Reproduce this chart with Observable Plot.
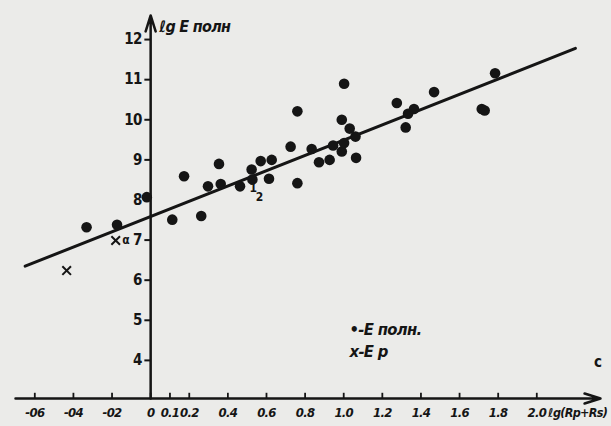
<!DOCTYPE html>
<html>
<head>
<meta charset="utf-8">
<script src="https://cdn.jsdelivr.net/npm/d3@7"></script>
<script src="https://cdn.jsdelivr.net/npm/@observablehq/plot@0.6"></script>
<style>
  html, body { margin: 0; padding: 0; background: #ebebe9; }
  #chart { width: 611px; height: 426px; overflow: hidden; }
  #chart svg text { letter-spacing: -0.7px; }
</style>
</head>
<body>
<div id="chart"></div>
<script>
// ---- data ----
const dotX = [-0.332, -0.174, -0.02, 0.112, 0.173, 0.262, 0.297, 0.354, 0.363, 0.463,
              0.523, 0.527, 0.570, 0.627, 0.613, 0.725, 0.760, 0.760, 0.834, 0.872,
              0.927, 0.945, 0.990, 1.031, 1.002, 0.990, 1.002, 1.064, 1.061, 1.275,
              1.364, 1.333, 1.321, 1.468, 1.715, 1.730, 1.784];
const dotY = [7.32, 7.38, 8.07, 7.51, 8.59, 7.60, 8.34, 8.90, 8.40, 8.34,
              8.76, 8.51, 8.97, 9.00, 8.53, 9.33, 10.21, 8.42, 9.27, 8.94,
              9.00, 9.36, 10.00, 9.78, 10.90, 9.21, 9.42, 9.05, 9.58, 10.42,
              10.27, 10.15, 9.81, 10.69, 10.27, 10.23, 11.16];
const crossX = [-0.435, -0.181];
const crossY = [6.24, 6.99];
const lineX = [-0.65, 2.20];
const lineY = [6.35, 11.78];

const xTicks = [-0.6, -0.4, -0.2, 0, 0.1, 0.2, 0.4, 0.6, 0.8, 1.0, 1.2, 1.4, 1.6, 1.8, 2.0];
const xTickLabels = ["-06", "-04", "-02", "0", "0.1", "0.2", "0.4", "0.6", "0.8", "1.0", "1.2", "1.4", "1.6", "1.8", "2.0"];
const yTicks = [4, 5, 6, 7, 8, 9, 10, 11, 12];
const yTickLabels = ["4", "5", "6", "7", "8", "9", "10", "11", "12"];

const yAxisTitle = "ℓg E полн";
const xAxisTitle = "ℓg(Rp+Rs)";
const legendLabels = ["•-E полн.", "x-E p"];
const legendX = [1.03, 1.03];
const legendY = [4.77, 4.22];
const noteText = ["α", "1", "2", "c"];
const noteX = [-0.13, 0.530, 0.562, 2.315];
const noteY = [7.0, 8.29, 8.08, 3.95];

// ---- build ----
const ink = "#151515";
const font = "'DejaVu Sans Condensed', 'DejaVu Sans', sans-serif";
const dots = dotX.map((x, i) => ({x, y: dotY[i]}));
const crosses = crossX.map((x, i) => ({x, y: crossY[i]}));
const line = lineX.map((x, i) => ({x, y: lineY[i]}));
const xMin = -0.70, xMax = 2.33, yMin = 3.05, yMax = 12.6;

const chart = Plot.plot({
  width: 611,
  height: 426,
  x: {domain: [xMin, xMax], range: [15, 600], axis: null},
  y: {domain: [yMin, yMax], range: [398, 15], axis: null},
  style: {background: "#ebebe9", fontFamily: font, color: ink},
  marks: [
    // axes with arrows
    Plot.arrow([0], {x1: xMin, y1: yMin, x2: xMax, y2: yMin, stroke: ink, strokeWidth: 2.5, headLength: 10, headAngle: 35}),
    Plot.arrow([0], {x1: 0, y1: yMin, x2: 0, y2: yMax, stroke: ink, strokeWidth: 2.5, headLength: 10, headAngle: 35}),
    // ticks
    Plot.ruleY(yTicks, {y: d => d, x1: -0.03, x2: 0, stroke: ink, strokeWidth: 2}),
    Plot.ruleX(xTicks, {x: d => d, y1: yMin, y2: yMin + 0.13, stroke: ink, strokeWidth: 1.8}),
    // tick labels
    Plot.text(yTicks, {x: 0, y: d => d, text: (d, i) => yTickLabels[i], dx: -9, textAnchor: "end",
      fontSize: 15, fontWeight: "bold", fill: ink}),
    Plot.text(xTicks, {x: d => d, y: yMin, dy: 14, text: (d, i) => xTickLabels[i],
      fontSize: 13, fontWeight: "bold", fill: ink, fontStyle: "italic"}),
    // axis titles
    Plot.text([yAxisTitle], {x: 0.045, y: 12.32, text: d => d, textAnchor: "start",
      fontSize: 16, fontWeight: "bold", fontStyle: "italic", fill: ink}),
    Plot.text([xAxisTitle], {x: 2.06, y: yMin, dy: 14, text: d => d, textAnchor: "start",
      fontSize: 12.5, fontWeight: "bold", fontStyle: "italic", fill: ink}),
    // regression line
    Plot.line(line, {x: "x", y: "y", stroke: ink, strokeWidth: 3}),
    // data
    Plot.dot(dots, {x: "x", y: "y", r: 5.3, fill: ink}),
    Plot.dot(crosses, {x: "x", y: "y", symbol: "times", r: 4, stroke: ink, strokeWidth: 2}),
    // legend
    Plot.text(legendLabels, {x: (d, i) => legendX[i], y: (d, i) => legendY[i], text: d => d, textAnchor: "start",
      fontSize: 16.5, fontWeight: "bold", fontStyle: "italic", fill: ink}),
    // notes
    Plot.text(noteText, {x: (d, i) => noteX[i], y: (d, i) => noteY[i], text: d => d,
      fontSize: (d, i) => (i === 3 ? 15 : 12), fontWeight: "bold", fill: ink})
  ]
});
document.getElementById("chart").appendChild(chart);
</script>
</body>
</html>
